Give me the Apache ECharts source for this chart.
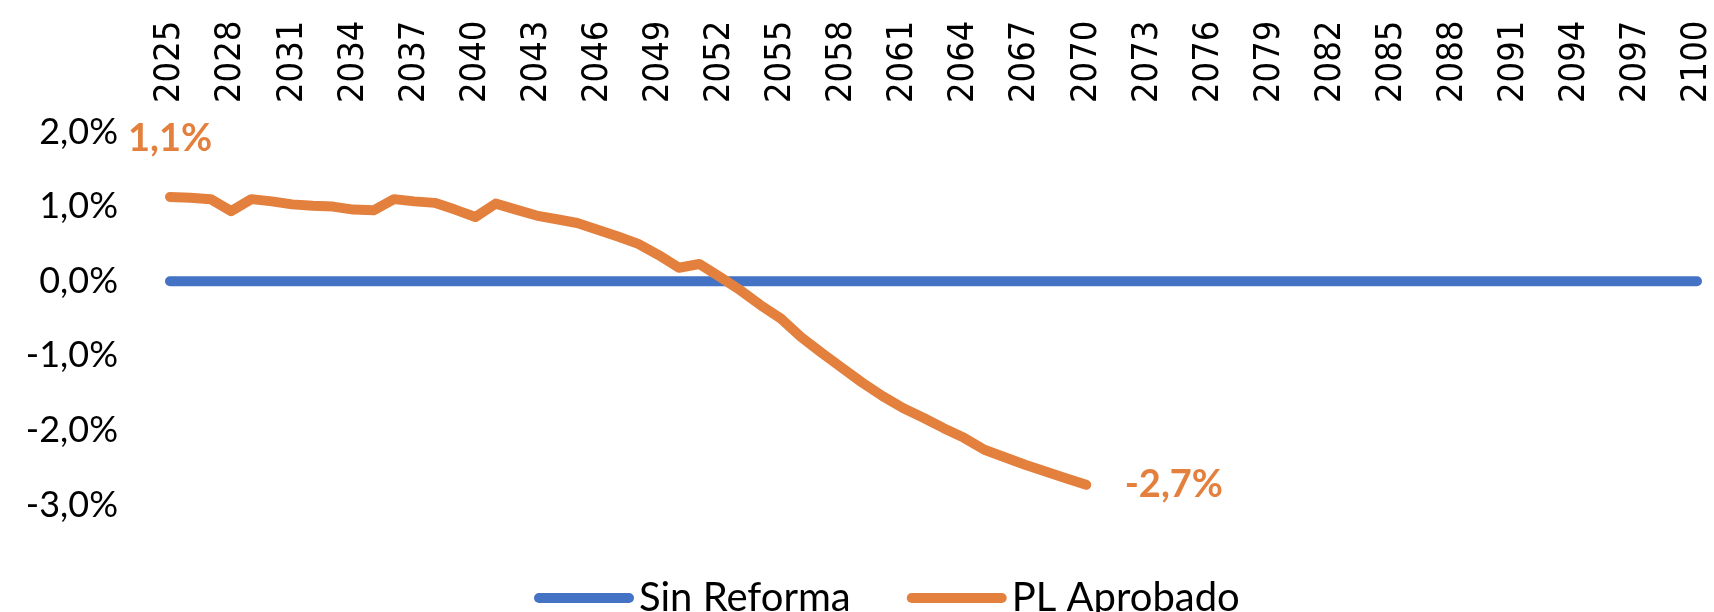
<!DOCTYPE html>
<html>
<head>
<meta charset="utf-8">
<script src="https://cdn.jsdelivr.net/npm/echarts@6/dist/echarts.min.js"></script>
<style>
  html, body { margin: 0; padding: 0; background: #ffffff; }
  #chart { width: 1714px; height: 612px; }
</style>
</head>
<body>
<div id="chart"></div>
<script>
// years 2025..2100
const years = [];
for (let y = 2025; y <= 2100; y++) years.push(String(y));

// Sin Reforma: 0% over the whole horizon
const sinReforma = [
  0, 0, 0, 0, 0, 0, 0, 0, 0, 0, 0, 0, 0, 0, 0, 0, 0, 0, 0, 0,
  0, 0, 0, 0, 0, 0, 0, 0, 0, 0, 0, 0, 0, 0, 0, 0, 0, 0, 0, 0,
  0, 0, 0, 0, 0, 0, 0, 0, 0, 0, 0, 0, 0, 0, 0, 0, 0, 0, 0, 0,
  0, 0, 0, 0, 0, 0, 0, 0, 0, 0, 0, 0, 0, 0, 0, 0
];

// PL Aprobado: 2025..2070
const plAprobado = [
  1.13, 1.12, 1.10, 0.94, 1.10, 1.07, 1.03, 1.01, 1.00, 0.96,
  0.95, 1.10, 1.07, 1.05, 0.96, 0.86, 1.04, 0.96, 0.88, 0.83,
  0.78, 0.69, 0.60, 0.50, 0.35, 0.18, 0.23, 0.06, -0.12, -0.32,
  -0.50, -0.75, -0.96, -1.16, -1.36, -1.54, -1.70, -1.83, -1.97, -2.10,
  -2.26, -2.36, -2.46, -2.55, -2.64, -2.73
];

const yTicks = { min: -3, max: 2, interval: 1 };

const blue = '#4472C4';
const orange = '#E3803D';
const pct = v => v.toFixed(1).replace('.', ',') + '%';

const labelStyle = {
  show: true,
  color: orange,
  fontFamily: 'Lato',
  fontWeight: 'bold',
  fontSize: 38,
  formatter: p => pct(p.value)
};

const plData = plAprobado.map((v, i) => {
  if (i === 0) return { value: v, label: Object.assign({}, labelStyle, { position: 'top', distance: 39 }) };
  if (i === plAprobado.length - 1) return { value: v, label: Object.assign({}, labelStyle, { position: 'right', distance: 38 }) };
  return v;
});

const legendIcon = 'path://M5,0 L95,0 A5,5 0 0 1 95,10 L5,10 A5,5 0 0 1 5,0 Z';

const chart = echarts.init(document.getElementById('chart'));
chart.setOption({
  animation: false,
  backgroundColor: '#ffffff',
  grid: { left: 170, right: 17, top: 132, bottom: 107, outerBoundsMode: 'none' },
  legend: {
    left: 529,
    top: 573,
    itemWidth: 100,
    itemHeight: 10,
    itemGap: 56,
    textStyle: { fontFamily: 'Lato', fontSize: 40, color: '#000' },
    data: [
      { name: 'Sin Reforma', icon: legendIcon },
      { name: 'PL Aprobado', icon: legendIcon }
    ]
  },
  xAxis: {
    type: 'category',
    position: 'top',
    boundaryGap: false,
    data: years,
    axisLine: { show: false, onZero: false },
    axisTick: { show: false },
    splitLine: { show: false },
    axisLabel: {
      interval: 2,
      rotate: -90,
      margin: 29,
      fontFamily: 'DejaVu Sans Condensed, DejaVu Sans',
      fontSize: 36,
      color: '#000'
    }
  },
  yAxis: {
    type: 'value',
    min: yTicks.min,
    max: yTicks.max,
    interval: yTicks.interval,
    axisLine: { show: false },
    axisTick: { show: false },
    splitLine: { show: false },
    axisLabel: {
      margin: 52,
      fontFamily: 'Lato',
      fontSize: 36,
      color: '#000',
      formatter: v => pct(v)
    }
  },
  series: [
    {
      name: 'Sin Reforma',
      type: 'line',
      data: sinReforma,
      symbol: 'none',
      color: blue,
      lineStyle: { color: blue, width: 10, cap: 'round' },
      z: 2
    },
    {
      name: 'PL Aprobado',
      type: 'line',
      data: plData,
      symbol: 'circle',
      symbolSize: 1,
      showSymbol: true,
      color: orange,
      itemStyle: { color: orange },
      lineStyle: { color: orange, width: 10, cap: 'round', join: 'round' },
      z: 3
    }
  ]
});
</script>
</body>
</html>
